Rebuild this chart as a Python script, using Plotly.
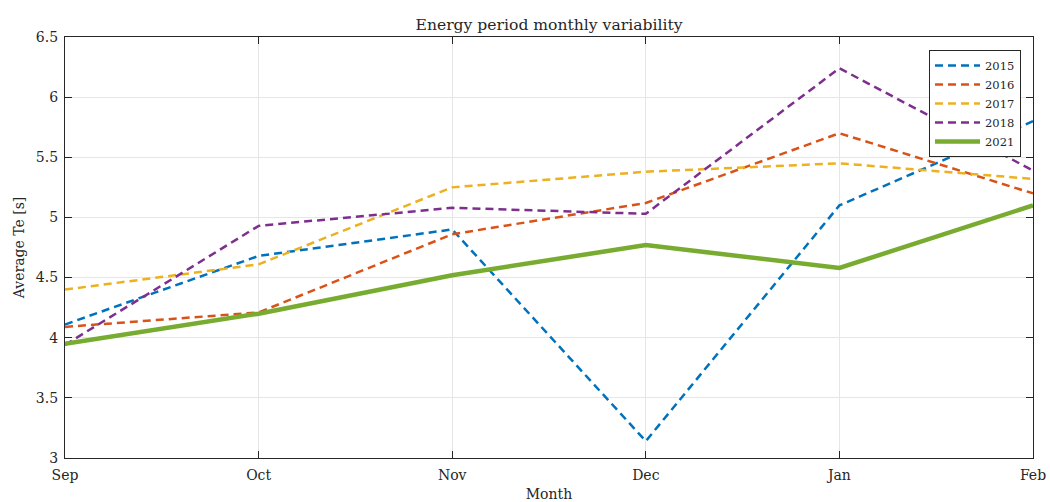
import plotly.graph_objects as go

months = ["Sep", "Oct", "Nov", "Dec", "Jan", "Feb"]
y2015 = [4.11, 4.68, 4.90, 3.14, 5.10, 5.80]
y2016 = [4.09, 4.21, 4.86, 5.12, 5.70, 5.20]
y2017 = [4.40, 4.61, 5.25, 5.38, 5.45, 5.32]
y2018 = [3.94, 4.93, 5.08, 5.03, 6.24, 5.39]
y2021 = [3.95, 4.20, 4.52, 4.77, 4.58, 5.10]
yticks = [3, 3.5, 4, 4.5, 5, 5.5, 6, 6.5]
ytick_text = ["3", "3.5", "4", "4.5", "5", "5.5", "6", "6.5"]

series = [
    ("2015", y2015, "#0072BD", "dash"),
    ("2016", y2016, "#D95319", "dash"),
    ("2017", y2017, "#EDB120", "dash"),
    ("2018", y2018, "#7E2F8E", "dash"),
    ("2021", y2021, "#77AC30", "solid"),
]

fig = go.Figure()
xs = list(range(len(months)))
for name, ys, color, style in series:
    if style == "dash":
        line = dict(color=color, width=2.5, dash="8px,5px")
    else:
        line = dict(color=color, width=4.5)
    fig.add_trace(go.Scatter(x=xs, y=ys, mode="lines", name=name, line=line))

font_family = "DejaVu Serif, Liberation Serif, serif"
fig.update_layout(
    width=1050, height=502,
    margin=dict(l=65, r=17, t=37, b=44, autoexpand=False),
    paper_bgcolor="white", plot_bgcolor="white",
    font=dict(family=font_family, size=14, color="#262626"),
    title=dict(text="Energy period monthly variability", x=0.5, xref="paper",
               y=1, yref="paper", yanchor="bottom", pad=dict(b=7),
               automargin=False,
               font=dict(size=15.6, color="#262626")),
    showlegend=True,
    legend=dict(x=0.9876, y=0.969, xanchor="right", yanchor="top",
                bgcolor="white", bordercolor="#262626", borderwidth=1,
                font=dict(size=11.5, color="#262626"), tracegroupgap=0,
                itemwidth=45),
)
fig.update_xaxes(
    range=[0, len(months) - 1], tickvals=xs, ticktext=months,
    showgrid=True, gridcolor="#e6e6e6", gridwidth=1,
    showline=True, linecolor="#262626", linewidth=1.2, mirror="ticks",
    ticks="inside", ticklen=7, tickcolor="#262626",
    zeroline=False, automargin=False, ticklabelstandoff=4,
    tickfont=dict(size=14),
    title=dict(text="Month", standoff=7, font=dict(size=14)),
)
fig.update_yaxes(
    range=[3, 6.5], tickvals=yticks, ticktext=ytick_text,
    showgrid=True, gridcolor="#e6e6e6", gridwidth=1,
    showline=True, linecolor="#262626", linewidth=1.2, mirror="ticks",
    ticks="inside", ticklen=7, tickcolor="#262626",
    zeroline=False, automargin=False, ticklabelstandoff=3,
    tickfont=dict(size=14),
    title=dict(text="Average Te [s]", standoff=7, font=dict(size=14)),
)

fig.write_html(
    "out.html",
    config={"displayModeBar": False},
    post_script="document.body.style.margin='0';document.body.style.overflow='hidden';",
)
